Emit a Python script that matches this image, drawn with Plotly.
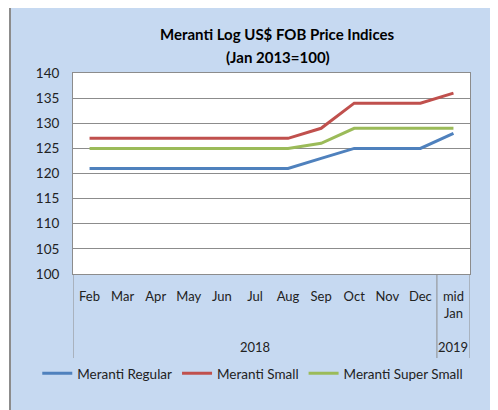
import plotly.graph_objects as go

months = ["Feb", "Mar", "Apr", "May", "Jun", "Jul", "Aug", "Sep", "Oct", "Nov", "Dec", "mid<br>Jan"]
year_labels = ["2018", "2019"]

regular = [121, 121, 121, 121, 121, 121, 121, 123, 125, 125, 125, 128]
small = [127, 127, 127, 127, 127, 127, 127, 129, 134, 134, 134, 136]
super_small = [125, 125, 125, 125, 125, 125, 125, 126, 129, 129, 129, 129]

grey = "#8C8C8C"

fig = go.Figure()
fig.add_trace(go.Scatter(x=months, y=regular, mode="lines", name="Meranti Regular",
                         line=dict(color="#4F81BD", width=3)))
fig.add_trace(go.Scatter(x=months, y=small, mode="lines", name="Meranti Small",
                         line=dict(color="#C0504D", width=3)))
fig.add_trace(go.Scatter(x=months, y=super_small, mode="lines", name="Meranti Super Small",
                         line=dict(color="#9BBB59", width=3)))

# chart area background + the boxes under the month labels
shapes = [
    dict(type="rect", xref="paper", yref="paper", x0=-0.1587, x1=1.2, y0=-0.8, y1=1.333,
         fillcolor="#C6D9F1", line=dict(color=grey, width=2), layer="below"),
    dict(type="rect", xref="x domain", yref="y domain", x0=0, x1=1, y0=0, y1=1,
         fillcolor="white", line=dict(width=0), layer="below"),
]
for xv in [-0.5, 10.5, 11.5]:
    shapes.append(dict(type="line", xref="x", yref="paper", x0=xv, x1=xv, y0=0, y1=-0.418,
                       line=dict(color=grey, width=1)))

annotations = [
    dict(text="<b>Meranti Log US$ FOB Price Indices</b>", xref="paper", yref="paper",
         x=0.516, y=1.194, yanchor="middle", showarrow=False, font=dict(size=15, color="black")),
    dict(text="<b>(Jan 2013=100)</b>", xref="paper", yref="paper",
         x=0.516, y=1.08, yanchor="middle", showarrow=False, font=dict(size=15, color="black")),
    dict(text=year_labels[0], xref="x", yref="paper", x=5, y=-0.363, yanchor="middle",
         showarrow=False),
    dict(text=year_labels[1], xref="x", yref="paper", x=11, y=-0.363, yanchor="middle",
         showarrow=False),
]

fig.update_layout(
    width=498, height=410,
    margin=dict(l=65, r=36, t=65, b=144, autoexpand=False),
    paper_bgcolor="white",
    plot_bgcolor="white",
    font=dict(family="Lato", size=13, color="#222"),
    showlegend=True,
    legend=dict(orientation="h", x=-0.09, xanchor="left", y=-0.495, yanchor="middle",
                font=dict(size=13.5), bgcolor="rgba(0,0,0,0)", tracegroupgap=0),
    shapes=shapes,
    annotations=annotations,
)
fig.update_xaxes(type="category", range=[-0.5, 11.5], showline=True, linecolor=grey, mirror=True,
                 showgrid=False, ticks="", ticklabelstandoff=10, tickfont=dict(size=13),
                 automargin=False)
fig.update_yaxes(range=[100, 140], dtick=5, showgrid=True, gridcolor=grey,
                 showline=True, linecolor=grey, mirror=True, ticks="",
                 ticklabelstandoff=10, tickfont=dict(size=13.5), zeroline=False,
                 automargin=False)

fig.write_html("out.html")
